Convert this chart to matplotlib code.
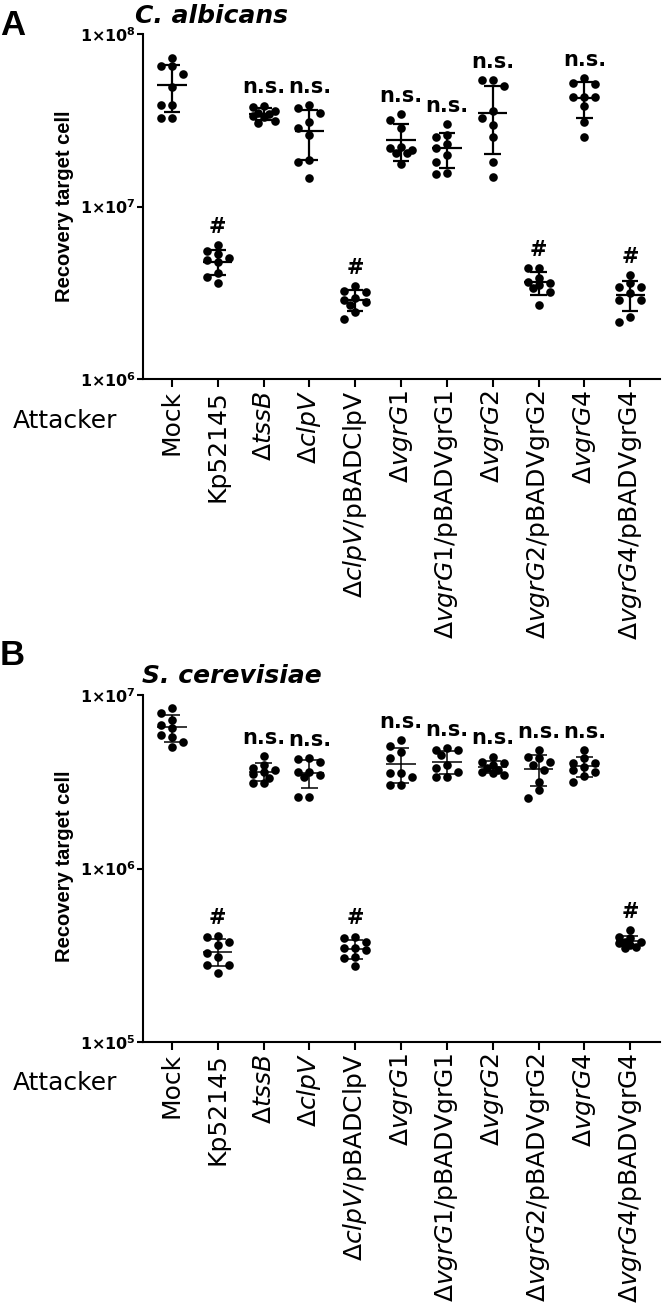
import numpy as np
import matplotlib
matplotlib.use("Agg")
import matplotlib.pyplot as plt
from matplotlib.ticker import FixedLocator, NullLocator

plt.rcParams['font.family'] = ['DejaVu Sans']
plt.rcParams['mathtext.fontset'] = 'dejavusans'

# category labels (shared by both panels)
strains = ['Mock', 'Kp52145', r'$\Delta\mathit{tssB}$', r'$\Delta\mathit{clpV}$',
           r'$\Delta\mathit{clpV}$/pBADClpV', r'$\Delta\mathit{vgrG1}$',
           r'$\Delta\mathit{vgrG1}$/pBADVgrG1', r'$\Delta\mathit{vgrG2}$',
           r'$\Delta\mathit{vgrG2}$/pBADVgrG2', r'$\Delta\mathit{vgrG4}$',
           r'$\Delta\mathit{vgrG4}$/pBADVgrG4']

# panel A: C. albicans recovery (CFU)
ca_mock = [7.3e7, 6.55e7, 6.55e7, 5.9e7, 4.95e7, 3.9e7, 3.9e7, 3.27e7, 3.27e7]
ca_kp = [5.98e6, 5.52e6, 5.3e6, 5.03e6, 4.9e6, 4.77e6, 4.11e6, 3.9e6, 3.6e6]
ca_tssB = [3.85e7, 3.75e7, 3.6e7, 3.5e7, 3.45e7, 3.35e7, 3.3e7, 3.15e7, 3.05e7]
ca_clpV = [3.87e7, 3.72e7, 3.48e7, 3.09e7, 2.85e7, 2.6e7, 1.86e7, 1.81e7, 1.46e7]
ca_clpV_c = [3.46e6, 3.24e6, 3.19e6, 2.95e6, 2.87e6, 2.8e6, 2.68e6, 2.44e6, 2.23e6]
ca_vgrG1 = [3.44e7, 3.17e7, 2.85e7, 2.21e7, 2.18e7, 2.13e7, 2.04e7, 2.04e7, 1.76e7]
ca_vgrG1_c = [3.01e7, 2.6e7, 2.53e7, 2.3e7, 2.18e7, 1.99e7, 1.81e7, 1.56e7, 1.54e7]
ca_vgrG2 = [5.41e7, 5.41e7, 5.0e7, 3.59e7, 3.24e7, 2.97e7, 2.54e7, 1.82e7, 1.48e7]
ca_vgrG2_c = [4.4e6, 4.4e6, 3.85e6, 3.65e6, 3.6e6, 3.51e6, 3.37e6, 3.19e6, 2.69e6]
ca_vgrG4 = [5.54e7, 5.18e7, 5.13e7, 4.33e7, 4.33e7, 4.33e7, 3.83e7, 3.1e7, 2.52e7]
ca_vgrG4_c = [4.01e6, 3.59e6, 3.41e6, 3.41e6, 3.14e6, 2.87e6, 2.87e6, 2.3e6, 2.15e6]
ca_marks = ['', '#', 'n.s.', 'n.s.', '#', 'n.s.', 'n.s.', 'n.s.', '#', 'n.s.', '#']

# panel B: S. cerevisiae recovery (CFU)
sc_mock = [8.41e6, 7.88e6, 7.18e6, 6.72e6, 6.45e6, 5.88e6, 5.73e6, 5.36e6, 5.01e6]
sc_kp = [4.08e5, 4.03e5, 3.77e5, 3.62e5, 3.26e5, 3.09e5, 2.78e5, 2.78e5, 2.5e5]
sc_tssB = [4.45e6, 3.95e6, 3.8e6, 3.7e6, 3.6e6, 3.51e6, 3.33e6, 3.11e6, 3.11e6]
sc_clpV = [4.34e6, 4.28e6, 4.11e6, 3.61e6, 3.61e6, 3.46e6, 3.37e6, 2.59e6, 2.59e6]
sc_clpV_c = [4.05e5, 3.96e5, 3.79e5, 3.47e5, 3.47e5, 3.39e5, 3.1e5, 3.04e5, 2.74e5]
sc_vgrG1 = [5.5e6, 5.08e6, 4.69e6, 4.33e6, 3.55e6, 3.55e6, 3.37e6, 3.03e6, 3.03e6]
sc_vgrG1_c = [4.95e6, 4.82e6, 4.82e6, 4.51e6, 3.95e6, 3.79e6, 3.6e6, 3.37e6, 3.37e6]
sc_vgrG2 = [4.41e6, 4.11e6, 4.04e6, 3.95e6, 3.78e6, 3.7e6, 3.62e6, 3.54e6, 3.46e6]
sc_vgrG2_c = [4.82e6, 4.38e6, 4.33e6, 4.11e6, 3.95e6, 3.7e6, 3.16e6, 2.83e6, 2.55e6]
sc_vgrG4 = [4.82e6, 4.33e6, 4.04e6, 4.04e6, 3.85e6, 3.7e6, 3.62e6, 3.41e6, 3.16e6]
sc_vgrG4_c = [4.42e5, 4.05e5, 3.96e5, 3.79e5, 3.79e5, 3.7e5, 3.62e5, 3.54e5, 3.47e5]
sc_marks = ['', '#', 'n.s.', 'n.s.', '#', 'n.s.', 'n.s.', 'n.s.', 'n.s.', 'n.s.', '#']

ca_ticks = [1e6, 1e7, 1e8]
ca_ticklabels = [r'$\mathbf{1{\times}10^{6}}$', r'$\mathbf{1{\times}10^{7}}$', r'$\mathbf{1{\times}10^{8}}$']
sc_ticks = [1e5, 1e6, 1e7]
sc_ticklabels = [r'$\mathbf{1{\times}10^{5}}$', r'$\mathbf{1{\times}10^{6}}$', r'$\mathbf{1{\times}10^{7}}$']

W, H = 665, 1305
fig = plt.figure(figsize=(W / 100, H / 100), dpi=100)


def swarm_x(ax, xc, vals, d=11, thr=8):
    # narrow beeswarm in pixel space: centre, left, right; overlap if crowded
    pts = ax.transData.transform(np.column_stack([np.full(len(vals), xc), vals]))
    placed = []
    offs = np.zeros(len(vals))
    for k in np.argsort(-np.asarray(vals), kind='stable'):
        px, py = pts[k]
        best, best_d = 0, -1
        for off in [0, -d, d, -d / 2, d / 2]:
            dmin = min([np.hypot(px + off - qx, py - qy) for qx, qy in placed] or [99])
            if dmin >= thr:
                best = off
                break
            if dmin > best_d:
                best, best_d = off, dmin
        placed.append((px + best, py))
        offs[k] = best
    return ax.transData.inverted().transform(np.column_stack([pts[:, 0] + offs, pts[:, 1]]))[:, 0]


def panel(rect, groups, marks, ylim, ticks, ticklabels, lw, title, letter, title_xy, letter_y, attacker_y, ylab_y):
    ax = fig.add_axes(rect)
    ax.set_yscale('log')
    ax.set_ylim(*ylim)
    ax.set_xlim(-0.63, len(groups) - 0.35)
    for s in ['top', 'right']:
        ax.spines[s].set_visible(False)
    for s in ['left', 'bottom']:
        ax.spines[s].set_linewidth(1.5)
    ax.yaxis.set_major_locator(FixedLocator(ticks))
    ax.yaxis.set_minor_locator(NullLocator())
    ax.set_yticklabels(ticklabels, fontsize=11.5)
    ax.set_xticks(range(len(groups)))
    ax.set_xticklabels(strains, rotation=90, fontsize=18)
    ax.tick_params(axis='y', length=4, width=1.5, pad=1)
    ax.tick_params(axis='x', length=6, width=1.5, pad=2)

    for i, vals in enumerate(groups):
        vals = np.asarray(vals)
        m = vals.mean()
        sd = vals.std(ddof=1)
        xs = swarm_x(ax, i, vals)
        ax.plot(xs, vals, 'o', color='black', ms=6.2, mew=0, zorder=3)
        ax.hlines(m, i - 0.32, i + 0.32, color='black', lw=lw, zorder=4)
        ax.vlines(i, m - sd, m + sd, color='black', lw=lw, zorder=4)
        ax.hlines([m - sd, m + sd], i - 0.18, i + 0.18, color='black', lw=lw, zorder=4)
        if marks[i]:
            top = max(vals.max(), m + sd)
            ax.annotate(marks[i], xy=(i, top), xytext=(0, 6), textcoords='offset points',
                        ha='center', va='bottom', fontsize=15,
                        fontweight='bold')

    fig.text(title_xy[0] / W, 1 - title_xy[1] / H, title, fontsize=18, fontweight='bold',
             fontstyle='italic', ha='left', va='baseline')
    fig.text(0.0, 1 - letter_y / H, letter, fontsize=25, fontweight='bold',
             family='Liberation Sans', ha='left', va='baseline')
    fig.text(13 / W, 1 - attacker_y / H, 'Attacker', fontsize=18, ha='left', va='center')
    fig.text(64 / W, 1 - ylab_y / H, 'Recovery target cell', fontsize=14.5, fontweight='bold',
             family='Liberation Sans', rotation=90, ha='center', va='center')
    return ax


ca_groups = [ca_mock, ca_kp, ca_tssB, ca_clpV, ca_clpV_c, ca_vgrG1, ca_vgrG1_c,
             ca_vgrG2, ca_vgrG2_c, ca_vgrG4, ca_vgrG4_c]
sc_groups = [sc_mock, sc_kp, sc_tssB, sc_clpV, sc_clpV_c, sc_vgrG1, sc_vgrG1_c,
             sc_vgrG2, sc_vgrG2_c, sc_vgrG4, sc_vgrG4_c]

panel([143 / W, 1 - 379 / H, 517 / W, 345 / H], ca_groups, ca_marks, (1e6, 1e8),
      ca_ticks, ca_ticklabels, 1.6, 'C. albicans', 'A', (135, 23), 35, 421, 206)
panel([143 / W, 1 - 1042 / H, 517 / W, 347 / H], sc_groups, sc_marks, (1e5, 1e7),
      sc_ticks, sc_ticklabels, 1.1, 'S. cerevisiae', 'B', (142, 683), 665, 1083, 866)

fig.savefig('out.png', dpi=100)
